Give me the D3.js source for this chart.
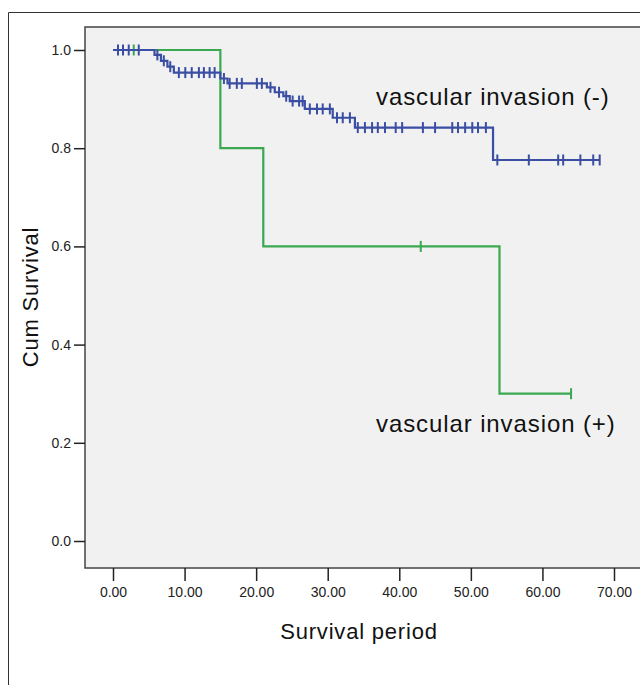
<!DOCTYPE html>
<html><head><meta charset="utf-8">
<script src="https://cdn.jsdelivr.net/npm/d3@7/dist/d3.min.js"></script>
<style>body{margin:0;background:#fff}svg{display:block}</style>
</head><body>
<svg id="chart" width="640" height="685"></svg>
<script>
// ---- data ----
const yTicks = [0, 0.2, 0.4, 0.6, 0.8, 1.0];
const xTicks = [0, 10, 20, 30, 40, 50, 60, 70];

// vascular invasion (-)
const negEventTimes = [5.8, 6.7, 7.6, 8.5, 15.0, 16.0, 21.5, 22.6, 23.8, 24.7, 26.8, 30.7, 33.8, 53.1];
const negSurvival   = [0.990, 0.978, 0.966, 0.954, 0.942, 0.932, 0.924, 0.914, 0.906, 0.896, 0.880, 0.862, 0.842, 0.776];
const negCensored   = [0.7, 1.4, 2.2, 3.6, 6.2, 7.1, 8.0, 9.2, 10.1, 11.0, 12.0, 12.7, 13.5, 14.2, 15.5,
                       16.3, 17.3, 18.0, 20.1, 20.8, 22.0, 23.2, 24.2, 25.1, 26.0, 26.5, 27.5, 28.5, 29.3, 30.3,
                       31.3, 32.1, 33.1, 34.2, 35.2, 36.2, 37.0, 38.0, 39.5, 40.4, 43.3, 45.0, 47.4, 48.2, 49.2,
                       50.2, 51.0, 52.1, 53.7, 58.1, 62.2, 62.9, 65.3, 67.1, 68.0];
const negEnd = 68.0;

// vascular invasion (+)
const posEventTimes = [15.0, 21.0, 54.0];
const posSurvival   = [0.8, 0.6, 0.3];
const posCensored   = [2.9, 43.0, 64.0];
const posEnd = 64.0;

const labels = ["vascular invasion (-)", "vascular invasion (+)"];

// ---- layout ----
const FONT = "Liberation Sans, Arial, sans-serif";
const svg = d3.select("#chart");
const plot = {left: 85, top: 27, right: 660, bottom: 568};
const x = d3.scaleLinear().domain([0, 70]).range([113, 614]);
const y = d3.scaleLinear().domain([0, 1]).range([541, 50]);

// outer frame
svg.append("path").attr("d", "M8.5,685 V12.5 H640").attr("fill","none").attr("stroke","#333").attr("stroke-width",1);

// plot area
svg.append("rect").attr("x", plot.left).attr("y", plot.top)
  .attr("width", plot.right - plot.left).attr("height", plot.bottom - plot.top)
  .attr("fill", "#f1f1f1").attr("stroke", "#444").attr("stroke-width", 1.5);

// axes
const yAxis = d3.axisLeft(y).tickValues(yTicks).tickFormat(d3.format(".1f")).tickSizeOuter(0).tickSize(11).tickPadding(3);
const gy = svg.append("g").attr("transform", `translate(${plot.left},0)`).call(yAxis);
gy.select(".domain").remove();
gy.selectAll("line").attr("stroke","#222").attr("stroke-width",1.5);
gy.selectAll("text").attr("font-family",FONT).attr("font-size",14).attr("fill","#222");

const xAxis = d3.axisBottom(x).tickValues(xTicks).tickFormat(d3.format(".2f")).tickSizeOuter(0).tickSize(13).tickPadding(6);
const gx = svg.append("g").attr("transform", `translate(0,${plot.bottom})`).call(xAxis);
gx.select(".domain").remove();
gx.selectAll("line").attr("stroke","#222").attr("stroke-width",1.5);
gx.selectAll("text").attr("font-family",FONT).attr("font-size",14).attr("fill","#222");

// axis titles
svg.append("text").attr("transform", "translate(38,297) rotate(-90)").attr("text-anchor","middle")
  .attr("font-family",FONT).attr("font-size",22).attr("letter-spacing",0.8).attr("fill","#111").text("Cum Survival");
svg.append("text").attr("x", 359).attr("y", 639).attr("text-anchor","middle")
  .attr("font-family",FONT).attr("font-size",22).attr("letter-spacing",0.8).attr("fill","#111").text("Survival period");

// KM helpers
function stepPoints(times, surv, end) {
  const pts = [[0, 1]];
  let s = 1;
  times.forEach((t, i) => { pts.push([t, s]); s = surv[i]; pts.push([t, s]); });
  pts.push([end, s]);
  return pts;
}
function survAt(times, surv, t) {
  let s = 1;
  times.forEach((tt, i) => { if (tt <= t) s = surv[i]; });
  return s;
}
const line = d3.line().x(d => x(d[0])).y(d => y(d[1]));

function drawCurve(times, surv, cens, end, color) {
  const g = svg.append("g");
  g.append("path").datum(stepPoints(times, surv, end)).attr("d", line)
    .attr("fill","none").attr("stroke", color).attr("stroke-width", 2.2);
  g.selectAll("line.c").data(cens).enter().append("line")
    .attr("x1", d => x(d)).attr("x2", d => x(d))
    .attr("y1", d => y(survAt(times, surv, d)) - 5.5).attr("y2", d => y(survAt(times, surv, d)) + 5.5)
    .attr("stroke", color).attr("stroke-width", 2);
}
drawCurve(posEventTimes, posSurvival, posCensored, posEnd, "#3aa851");
drawCurve(negEventTimes, negSurvival, negCensored, negEnd, "#3a4ea3");

// curve labels
svg.append("text").attr("x", 376).attr("y", 105).attr("font-family",FONT)
  .attr("font-size", 24).attr("letter-spacing", 0.9).attr("fill","#111").text(labels[0]);
svg.append("text").attr("x", 376).attr("y", 432).attr("font-family",FONT)
  .attr("font-size", 24).attr("letter-spacing", 0.9).attr("fill","#111").text(labels[1]);
</script>
</body></html>
